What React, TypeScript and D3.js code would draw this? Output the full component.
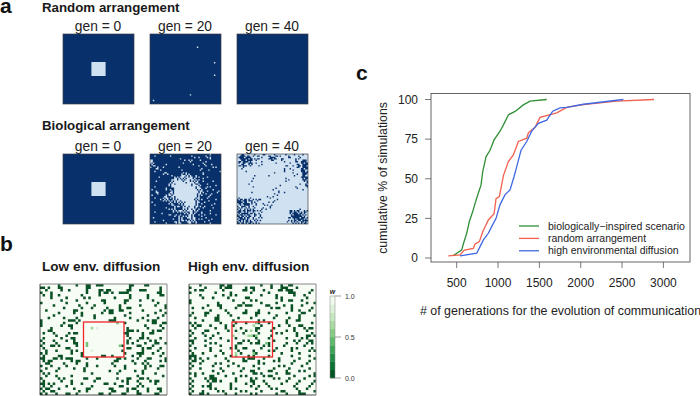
import React from 'react';
import * as d3 from 'd3';

const WIDTH = 700, HEIGHT = 396;

// panel a: '#' = cell in the light state, '.' = dark state
const genLabels = ['gen = 0', 'gen = 20', 'gen = 40'];
const centerPatch = [20, 21, 22, 23, 24, 25, 26, 27, 28, 29];
const randomGen20Cells = [[33, 9], [45, 20], [45, 29], [28, 43], [2, 47]];

const bioGen20 = [
  '..........................................#.......',
  '...#..........#..............#.........#..........',
  '...............................#..#.....#.#.......',
  '.....................#....................#.......',
  '##......................#..#.#.....#..............',
  '##..........................#..........#..........',
  '#.#....................#.............#............',
  '.#.........#..................#.......#....#......',
  '..##..............................#....#..........',
  '#....#...#..........#.......................#.#...',
  '....##..............................#.............',
  '.......#..............#............#.....#........',
  '...#.............................................#',
  '..........##...........#.#...........#............',
  '.........#..#.........#..#.#.........#............',
  '...............#......###.#.#...#.................',
  '......#..........#.#.###.##.##..#.#.....#.........',
  '.................##.#.#.#.####.#.....#............',
  '...............####.##.#.###.##.#.#...............',
  '....#..........#.######.####.#.#.#...#......#.....',
  '..............#.#########.#####.##................',
  '.............#.##.###########.##..#.....#.........',
  '.............#.##############.####.#..........#...',
  '...#...........#################.##.....#.#........',
  '...........#.....###############.###...#..........',
  '.#.........#..#..################.#.#.......#......',
  '....#..........#.#################.##...#.......#..',
  '....##........##.#################.#.#.........#...',
  '.....#.......#.#.################.##...#...#.......',
  '.#.........#.##.#################.#.#.....#........',
  '..........##...##.###############.#......#........',
  '...#.....#.##.#.#.##############.##.....#.........',
  '.......#..#.#...#.#.###########.#.#.#.........#...',
  '.........#.#.#.#.#.##.##########.#.......#........',
  '.#............#..#.#.#.#.#######.##...#...........',
  '.............#.#....#.#.########.#..#........#....',
  '...#...........##.....#.########.#.........#......',
  '.................#.##..#.##.###.##.#..#...........',
  '...........#.....#.....###.####.#....#......#.....',
  '.............#.#.#.....#.#.##.##..#...............',
  '................#.#.###.#.####.#.#........#.......',
  '...#............#..#.#.#.#..##..#...#.............',
  '........#...............#.#.##.#....#.....#.......',
  '.............##...#..#.....##.#...#...#.......#...',
  '.................#..#..#.#.##.#.....#.............',
  '..#.................#.#...###.##.......#..........',
  '................#...#.#.....#.##..#.#......#......',
  '.........#..........#.##.#.#.#.#.........#........',
  '...#.............##.#.....###.#.#.....#...........',
  '...........#......#.##.....##...#.........#.......',
];

// gen 40 is mostly light, so this one lists the dark cells: 'x' = dark
const bioGen40Dark = [
  '...xx.......x.....xx......x.......x.....x.....x...',
  '..xxxx.xx..x..xx......xx...xx.x.....x......x......',
  '.xxxx.xxxx.......x.....xxxx.........xx......x.....',
  '..xxxxxx.xx.x.xx......xxx.xx...xx........x.x......',
  '...xxx.xxxx..x..........xx.....x.........x....xxx.',
  '.xx.xxxx.x.......x...............x.......xx..xxxx.',
  '.x..xx..xxx..x.............x.........x.......xx.xx',
  '...xx...x.x......x........................xx..xxxx',
  '.xx.xxx..x.....x..................xx...x...xx.xxx.',
  '....x.....................................xx..xxxx',
  '...x.............................x...x.......xx.xx',
  '.................................x.....x.....xxx..',
  '......x..........................x...........xxx.x',
  '..........................x............x......xxxx',
  '..........................................x...xxx.',
  '............x.........x.................x.....xx..',
  '.............................................xxxxx',
  '...........x......................x...........x.xx',
  '....................................x.........xxx.',
  '..........x.......................x............x.x',
  '.................................................x',
  '........x...................................x...x.',
  '..............................x.................xx',
  '...........x.............................x.......x',
  '...........................x..............x.......',
  '.........................x....................x...',
  '.............................x....................',
  '..........x..................x...x................',
  '..........................x.......................',
  '............................x.....................',
  '.....................x...x........................',
  '.x.......x.............x..........................',
  'x.xx.xx.x..x.x.xx...........x.....................',
  'xxx.xxx.xxx...x...........x.......................',
  'xxxx.xx...x.x.........x..x........................',
  '.xx.xxxxx.x..x....x...............................',
  '..x..xxxx....x.....x.x..x.........................',
  'x..xxx..x..x...........x..........................',
  '.x.x..x.x...x.....x....x..........................',
  'x.x..x.x.x.x.....x..x.......................x.....',
  '.xx.xx.xxx.xx.x.x....................xx.x.xx...x.x',
  'xxx..x.x...x.....x...................xx.xx.x.x.xx.',
  '.x.xxxxx.xx.x..x.....................x.xxxx.xx.x..',
  'x.xx.x.xx...xx..x.....................x.xxxxx.x.x.',
  'xx.xx.x.xx..x...x.....................xxxxxxxx.x..',
  '.xxx.x.xx..x...x.x..................xx.xxxxx.xxx.x',
  'x.xxxx.x...x.x..........................x.xxxxx.x.',
  '.xx.x.xx.x..x.x.x...................x.x.xx.xx.xxxx',
  'x.x.x.xx.xx..x.....................x..x.x.x..xx.x.',
  'xx.xx.x.xx.x.x.x.......................x.x.x.x.xx.',
];

// panel b: '#' = w 0, 'a'/'b'/'c' = intermediate w values, '.' = w 1
const lowDiffusion = [
  '.......#......#...##..###..........##....##.......',
  '##.#...##.........##...............#...........#..',
  '..#.....#..#......#....##.##......##...###.....#..',
  '#...#.............#....#.##.#..####...........##..',
  '.#..#..#........#......#...........#......#....##.',
  '....#.....#......#.#.........#.....#......#.......',
  '........#.....#.........##.......##....#....#.....',
  '#.........#.......#......#.......#............#...',
  '.....#.........#.....#.........#.......#.....#...#',
  '.........#......#...#.....#....#..##.............#',
  '..#..........##..........#.##..##.......#......#..',
  '.......#.....#..#.......#..##......#.........#...#',
  '.....#..........#....#...........#........#.....#.',
  '...#.....#....#......#.......#.....#....#.....#...',
  '#..........###.#...........###........#...#.##....',
  '#........#....#...............a..#..........##..##',
  '#.......#..##............................#.....#..',
  '....#.......#.......b.c...........#.......#.....#.',
  '...##.............................###.#.....#.##..',
  '.#...#.....#.##..................##.....#..##.....',
  '......#...#.......................#.....#.........',
  '.#......#...##.....................#...##.#....#..',
  '#....#....#..#....................#...#....#.#.....',
  '.#....#......##...a...............#.#....#...##..#',
  '#...##.#......#...a............a#.....##....#.....',
  '.#........##......................##....#.##...#..',
  '..#...#.....#.#.....c...........#.......#.....#...',
  '#.#.........#...#................#....###...#...#.',
  '.#.....##.......#.......##..#.......#..#.......#..',
  '##...##.#.###.....#...#.......##.#....#...##.....#',
  '.#.##.......#.##.............##.....#....#.....#.#',
  '..##.....#....#...#.........#........#..#.#.......',
  '#...#.....#.......#...#......#...#.......#.#...##.',
  '..#....#.....#...#...............#.......#....#...',
  '#.....#..........#.........#...#.....#..#.........',
  '.#.#................#.........#.........#....#....',
  '..#...#.....#.........................#.........#.',
  '#......#.#.......##...##......#...##...##.#.......',
  '.#......#...#........#..........#.#...#....#.##...',
  '##.#.#......#...#........##..#....#....#.....#....',
  '.#..#.....#.........#..........##.....#.#.........',
  '#.##...#.....#....##.......##.....#.##....#...##..',
  '.#..##.........#..#.........##....#...#...#....#..',
  '#.#...#...##..#........##..#....##....##.....##...',
];

const highDiffusion = [
  '....#.......##.##...........#...#...#..##.........',
  '#.....#.....#.###.....#.##......#...###...#.......',
  '..#.##.......#.......##..#...#.....##.###.......#.',
  '#.........#.....#.......#......#.......###.....#..',
  '....#........#..#.#.........#.....#......#...#....',
  '.....#...#.....#......##..........#.#.........#...',
  '#................#......#.#.........#..##...#.....',
  '#..........#.........#......#.....#...........#..#',
  '.......#...##......##.###.....##.....#..#...#.....',
  '.#...#......#.....#.............#.##....#.......#.',
  '........#.....#.......#....#............#..#...#..',
  '.#....##.......#.....##...##...#......#.....##....',
  '#.....#....#....#.........#.......#........#.....#',
  '..#.......##.......#....#........#.....#...#......',
  '.....#....##.....#.........#.#........#...##......',
  '#.#.........#.....#...#...a#...#......#.........#.',
  '.#.##...#.....#..#.......b..#......#...#...##.....',
  '..#.......#...#...c.#.....##.....#.......#...#.##.',
  '#.....##.......#..#...#.b.#.....#.....#..#....#...',
  '.#...#.....#.......c.#.....#......#.#.....#.....#.',
  '#.....#..#.......b....cbb#a.....#.........#...##.#',
  '..#.....#...#.....#.......#....#......#.....#.#...',
  '##....#........#.....#.#...#.....#.......#.#...##.',
  '.#......#.#........##...#.##..a#......#...#...#.#.',
  '#.....#.....#.....#..........#.#.....#.......#....',
  '..#.....#.......#.#..##.....#.....#.....#.#.....#.',
  '#.......#...#......#.....#.....#.#......#......#.#',
  '.#...#.......#....b.#....a#.........#......#......',
  '###.......#.....#.a....#.#.....#........#......#..',
  '#.#.#..#......#......#.###...#.....#.......#.....#',
  '.##..#.........#.....##....#.....#.#.....#.....#..',
  '#...#.....#.#....#.........#.#..........#.....#...',
  '.#.......#.....#...#.....#.........#.#......#.....',
  '#...#.......#........#.....#.....#.....#.......#..',
  '.........#...#......#...##.....##.....#....#.#....',
  '#.#..#.....#.....#.......##.#.....#...##.........#',
  '..#.....##....#.....#.#......#.##........#.....#.#',
  '#.....#.###.......#.....#.#......#.#...#.....#....',
  '.#.....#.##.#.....#.....##...#........#....#.....#',
  '#.......#.......#.....#..#....#.....#.....#.....#.',
  '.#...#.##.......#.......#..#...#.........#.....#..',
  '#.......#.#.....#.#.......#.....#.#.......#...#...',
  '.#...#.....#.#......#.#.....#.......##.....#.....#',
  '#...##.#......#...#.....#.#.......#...#....###....',
];

// panel c: [generations, cumulative %]
const bioScenario = [[460, 1.5], [500, 3], [560, 5], [581, 9], [621, 15.6], [653, 23], [694, 29.3], [722, 34.5], [762, 41], [794, 46], [815, 54.5], [855, 64], [903, 68], [952, 74.5], [1024, 80], [1065, 84], [1125, 90.3], [1206, 92.5], [1306, 96.6], [1387, 99], [1589, 100]];
const randomArrangement = [[399, 1.3], [540, 1.9], [593, 5], [702, 6], [722, 8.8], [774, 10.3], [815, 16.6], [883, 24], [952, 28], [976, 37.5], [1016, 38.7], [1065, 52], [1125, 60.8], [1185, 65], [1246, 73.5], [1347, 75.6], [1367, 79], [1448, 82.5], [1508, 88.7], [1710, 91.6], [1830, 95], [2032, 96.8], [2435, 99], [2887, 100]];
const highEnvDiffusion = [[540, 1.3], [742, 3], [782, 7.2], [823, 11.4], [883, 15.6], [923, 19.8], [976, 25], [1024, 33.7], [1085, 40], [1145, 43], [1194, 51.4], [1226, 57.7], [1278, 68], [1347, 73.5], [1407, 80], [1488, 85], [1589, 87], [1661, 92.6], [1750, 94.7], [1830, 95], [2032, 97], [2516, 100]];
const xTicks = [500, 1000, 1500, 2000, 2500, 3000];
const yTicks = [0, 25, 50, 75, 100];
const legendLabels = ['biologically\u2212inspired scenario', 'random arrangement', 'high environmental diffusion'];
const wTicks = [0, 0.5, 1];
const wSteps = [0, 0.1, 0.2, 0.3, 0.4, 0.5, 0.6, 0.7, 0.8, 0.9];

const font = '"Liberation Sans", Arial, sans-serif';
const NAVY = '#08306b', PALE = '#d0e2f2', DARK_GREEN = '#0b5227';
const COLS = d3.range(50);

const grnScale = d3.scaleSequential((t: number) => d3.interpolateGreens(1 - t)).domain([0, 1]);
const cellW: Record<string, number> = { a: 0.5, b: 0.62, c: 0.85 };

// all cells of one colour go in one path, so abutting cells show no seams
const cellsPath = (sx: d3.ScaleBand<number>, sy: d3.ScaleBand<number>, cells: number[][]) => {
  const p = d3.path();
  cells.forEach(([c, r]) => p.rect(sx(c)!, sy(r)!, sx.bandwidth(), sy.bandwidth()));
  return p.toString();
};

const rowsToCells = (rows: string[], ch = '#') => {
  const out: number[][] = [];
  rows.forEach((row, r) => row.split('').forEach((v, c) => { if (v === ch) out.push([c, r]); }));
  return out;
};

const MiniGrid = ({ x, y, cells, bg = NAVY, fg = PALE }: { x: number; y: number; cells: number[][]; bg?: string; fg?: string }) => {
  const sx = d3.scaleBand<number>().domain(COLS).range([x, x + 71]);
  const sy = d3.scaleBand<number>().domain(COLS).range([y, y + 70]);
  return (
    <g>
      <rect x={x} y={y} width={71} height={70} fill={bg} />
      <path d={cellsPath(sx, sy, cells)} fill={fg} />
      <rect x={x} y={y} width={71} height={70} fill="none" stroke="#3a3f47" strokeWidth={0.7} />
    </g>
  );
};

const patchCells = centerPatch.flatMap(r => centerPatch.map(c => [c, r]));

const WMap = ({ x, rows, boxX, title, titleX }: { x: number; rows: string[]; boxX: number; title: string; titleX: number }) => {
  const y = 284, w = 127, h = 111;
  const sx = d3.scaleBand<number>().domain(COLS).range([x, x + w]);
  const sy = d3.scaleBand<number>().domain(d3.range(rows.length)).range([y, y + h]);
  return (
    <g>
      <text x={titleX} y={271} fontSize={13.6} fontWeight="bold" fill="#1a1a1a">{title}</text>
      <rect x={x} y={y} width={w} height={h} fill={grnScale(1)} />
      <path d={cellsPath(sx, sy, rowsToCells(rows))} fill={DARK_GREEN} />
      {Object.keys(cellW).map(k => (
        <path key={k} d={cellsPath(sx, sy, rowsToCells(rows, k))} fill={grnScale(cellW[k])} />
      ))}
      <path d={`M${x},${y}H${x + w}V${y + h}`} fill="none" stroke="#888" strokeWidth={1} />
      <path d={`M${x},${y}V${y + h}H${x + w}`} fill="none" stroke="#222" strokeWidth={0.8} />
      <rect x={boxX} y={322} width={40.5} height={35} fill="none" stroke="#f0262c" strokeWidth={1.3} />
    </g>
  );
};

export default function App() {
  const x = d3.scaleLinear().domain([500, 3000]).range([456.7, 663.4]);
  const y = d3.scaleLinear().domain([0, 100]).range([258, 99.5]);
  const line = d3.line<number[]>().x(d => x(d[0])).y(d => y(d[1]));
  const wY = d3.scaleLinear().domain([0, 1]).range([378, 296]);
  const curves = [
    { values: bioScenario, color: '#2f8f35' },
    { values: randomArrangement, color: '#f2604f' },
    { values: highEnvDiffusion, color: '#3f68e2' },
  ];
  const gridX = [63, 150, 237];
  const row1 = [patchCells, randomGen20Cells, []];

  return (
    <svg width={WIDTH} height={HEIGHT} style={{ position: 'absolute', left: 0, top: 0, background: '#fff' }} fontFamily={font}>
      <text x={0} y={13} fontSize={21} fontWeight="bold" fill="#111">a</text>
      <text x={0} y={251} fontSize={21} fontWeight="bold" fill="#111">b</text>
      <text x={356} y={80} fontSize={21} fontWeight="bold" fill="#111">c</text>

      <text x={42} y={12} fontSize={13.3} fontWeight="bold" fill="#1a1a1a">Random arrangement</text>
      <text x={42} y={130} fontSize={13.3} fontWeight="bold" fill="#1a1a1a">Biological arrangement</text>

      {gridX.map((gx, i) => (
        <g key={i}>
          <text x={gx + 35} y={31} fontSize={13.8} textAnchor="middle" fill="#222">{genLabels[i]}</text>
          <MiniGrid x={gx} y={34} cells={row1[i]} />
          <text x={gx + 35} y={151} fontSize={13.8} textAnchor="middle" fill="#222">{genLabels[i]}</text>
        </g>
      ))}
      <MiniGrid x={gridX[0]} y={154} cells={patchCells} />
      <MiniGrid x={gridX[1]} y={154} cells={rowsToCells(bioGen20)} />
      <MiniGrid x={gridX[2]} y={154} cells={rowsToCells(bioGen40Dark, 'x')} bg={PALE} fg={NAVY} />

      <WMap x={40} rows={lowDiffusion} boxX={83.5} title="Low env. diffusion" titleX={42} />
      <WMap x={189} rows={highDiffusion} boxX={232} title="High env. diffusion" titleX={188} />

      {/* colour bar */}
      {wSteps.map(w => (
        <rect key={w} x={330} y={wY(w + 0.1)} width={5} height={wY(w) - wY(w + 0.1) + 0.3} fill={grnScale(w + 0.05)} />
      ))}
      <rect x={330} y={296} width={5} height={82} fill="none" stroke="#888" strokeWidth={0.5} />
      <text x={332.5} y={294} fontSize={7} fontWeight="bold" fontStyle="italic" textAnchor="middle" fill="#222">w</text>
      {wTicks.map(t => (
        <g key={t}>
          <line x1={335} x2={341} y1={wY(t)} y2={wY(t)} stroke="#777" strokeWidth={0.7} />
          <text x={345} y={wY(t) + 2.5} fontSize={7} fill="#333">{t.toFixed(1)}</text>
        </g>
      ))}

      {/* panel c */}
      <rect x={431} y={93.5} width={259} height={168.5} fill="none" stroke="#555" strokeWidth={0.9} />
      {curves.map(c => (
        <path key={c.color} d={line(c.values) ?? ''} fill="none" stroke={c.color} strokeWidth={1.3} />
      ))}
      {xTicks.map(t => (
        <g key={t}>
          <line x1={x(t)} x2={x(t)} y1={262} y2={268} stroke="#555" strokeWidth={0.8} />
          <text x={x(t)} y={287} fontSize={12} textAnchor="middle" fill="#222">{t}</text>
        </g>
      ))}
      {yTicks.map(t => (
        <g key={t}>
          <line x1={425} x2={431} y1={y(t)} y2={y(t)} stroke="#555" strokeWidth={0.8} />
          <text x={418} y={y(t) + 4.2} fontSize={12} textAnchor="end" fill="#222">{t}</text>
        </g>
      ))}
      <text transform="translate(387,178) rotate(-90)" fontSize={12.3} textAnchor="middle" fill="#222">cumulative % of simulations</text>
      <text x={420} y={315} fontSize={12.4} fill="#222">{'# of generations for the evolution of communication'}</text>
      {legendLabels.map((label, i) => (
        <g key={label}>
          <line x1={519} x2={539} y1={226 + i * 12.4} y2={226 + i * 12.4} stroke={curves[i].color} strokeWidth={1.3} />
          <text x={548} y={229.5 + i * 12.4} fontSize={10.5} fill="#222">{label}</text>
        </g>
      ))}
    </svg>
  );
}
